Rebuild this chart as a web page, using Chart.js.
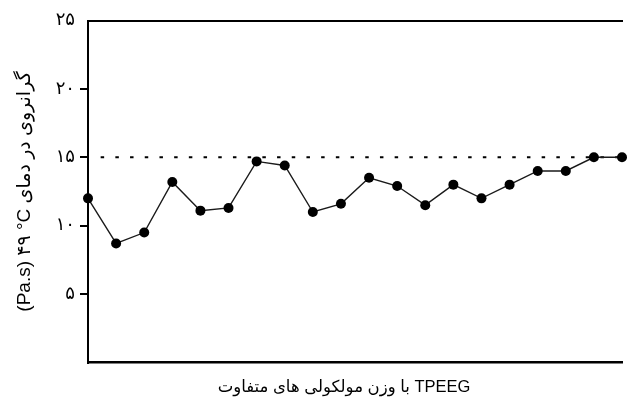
<!DOCTYPE html>
<html>
<head>
<meta charset="utf-8">
<script src="https://cdn.jsdelivr.net/npm/chart.js@4.4.1/dist/chart.umd.min.js"></script>
<style>
  html, body { margin: 0; padding: 0; background: #fff; overflow: hidden; }
  #wrap { position: relative; width: 627px; height: 401px; }
</style>
</head>
<body>
<div id="wrap"><canvas id="chart" width="627" height="401"></canvas></div>
<script>
// Samples (TPEEG grades, left to right)
const samples = [1, 2, 3, 4, 5, 6, 7, 8, 9, 10, 11, 12, 13, 14, 15, 16, 17, 18, 19, 20];
// Viscosity at 49 °C (Pa.s)
const viscosity = [12.0, 8.7, 9.5, 13.2, 11.1, 11.3, 14.7, 14.4, 11.0, 11.6,
                   13.5, 12.9, 11.5, 13.0, 12.0, 13.0, 14.0, 14.0, 15.0, 15.0];
// Dotted reference level and the sample span it covers
const refLevel = [15, 15];
const refSpan = [1.45, 20];
// Y-axis tick values and their Persian labels
const yTickValues = [0, 5, 10, 15, 20, 25];
const yTickLabels = ['', '۵', '۱۰', '۱۵', '۲۰', '۲۵'];

const yTitle = '(Pa.s) ۴۹ °C گرانروی در دمای';
const xTitle = 'با وزن مولکولی های متفاوت TPEEG';

const FONT = "'Liberation Sans', 'DejaVu Sans', sans-serif";

const mainPoints = samples.map((s, i) => ({ x: s, y: viscosity[i] }));
const refPoints = refSpan.map((s, i) => ({ x: s, y: refLevel[i] }));

// Bottom axis caption, drawn under the plot
const xCaption = {
  id: 'xCaption',
  afterDraw(chart) {
    const { ctx, chartArea } = chart;
    ctx.save();
    ctx.font = '16.5px ' + FONT;
    ctx.fillStyle = '#000';
    ctx.textAlign = 'center';
    ctx.textBaseline = 'middle';
    ctx.fillText(xTitle, (chartArea.left + chartArea.right) / 2 - 11, chartArea.bottom + 25);
    ctx.restore();
  }
};

new Chart(document.getElementById('chart'), {
  type: 'line',
  data: {
    datasets: [
      {
        data: mainPoints,
        borderColor: '#1a1a1a',
        borderWidth: 1.4,
        pointRadius: 5,
        pointBackgroundColor: '#000',
        pointBorderWidth: 0,
        tension: 0,
        clip: false,
        order: 1
      },
      {
        data: refPoints,
        borderColor: '#000',
        borderWidth: 2,
        borderDash: [3.5, 11.2],
        pointRadius: 0,
        order: 2
      }
    ]
  },
  options: {
    responsive: false,
    animation: false,
    events: [],
    layout: { padding: { right: 2 } },
    plugins: { legend: { display: false }, tooltip: { enabled: false } },
    scales: {
      x: {
        type: 'linear',
        position: 'bottom',
        min: 1,
        max: 20,
        ticks: { display: false },
        grid: { display: false },
        border: { display: true, color: '#000', width: 2.5 },
        afterFit(scale) { scale.height = 38.5; }
      },
      xTop: {
        type: 'linear',
        position: 'top',
        min: 1,
        max: 20,
        ticks: { display: false },
        grid: { display: false },
        border: { display: true, color: '#000', width: 2 },
        afterFit(scale) { scale.height = 20.5; }
      },
      y: {
        min: 0,
        max: 25,
        afterBuildTicks(scale) { scale.ticks = yTickValues.map(v => ({ value: v })); },
        ticks: {
          color: '#000',
          font: { family: "'DejaVu Sans', sans-serif", size: 18 },
          padding: 5,
          callback: (v) => yTickLabels[yTickValues.indexOf(v)]
        },
        grid: {
          drawOnChartArea: false,
          drawTicks: true,
          tickLength: 8,
          lineWidth: 2,
          color: (c) => (c.tick && (c.tick.value === 0 || c.tick.value === 25)) ? 'rgba(0,0,0,0)' : '#000'
        },
        border: { display: true, color: '#000', width: 2 },
        title: {
          display: true,
          text: yTitle,
          color: '#000',
          font: { family: FONT, size: 19 },
          padding: { top: 13, bottom: 0 }
        },
        afterFit(scale) { scale.width = 88; }
      }
    }
  },
  plugins: [xCaption]
});
</script>
</body>
</html>
